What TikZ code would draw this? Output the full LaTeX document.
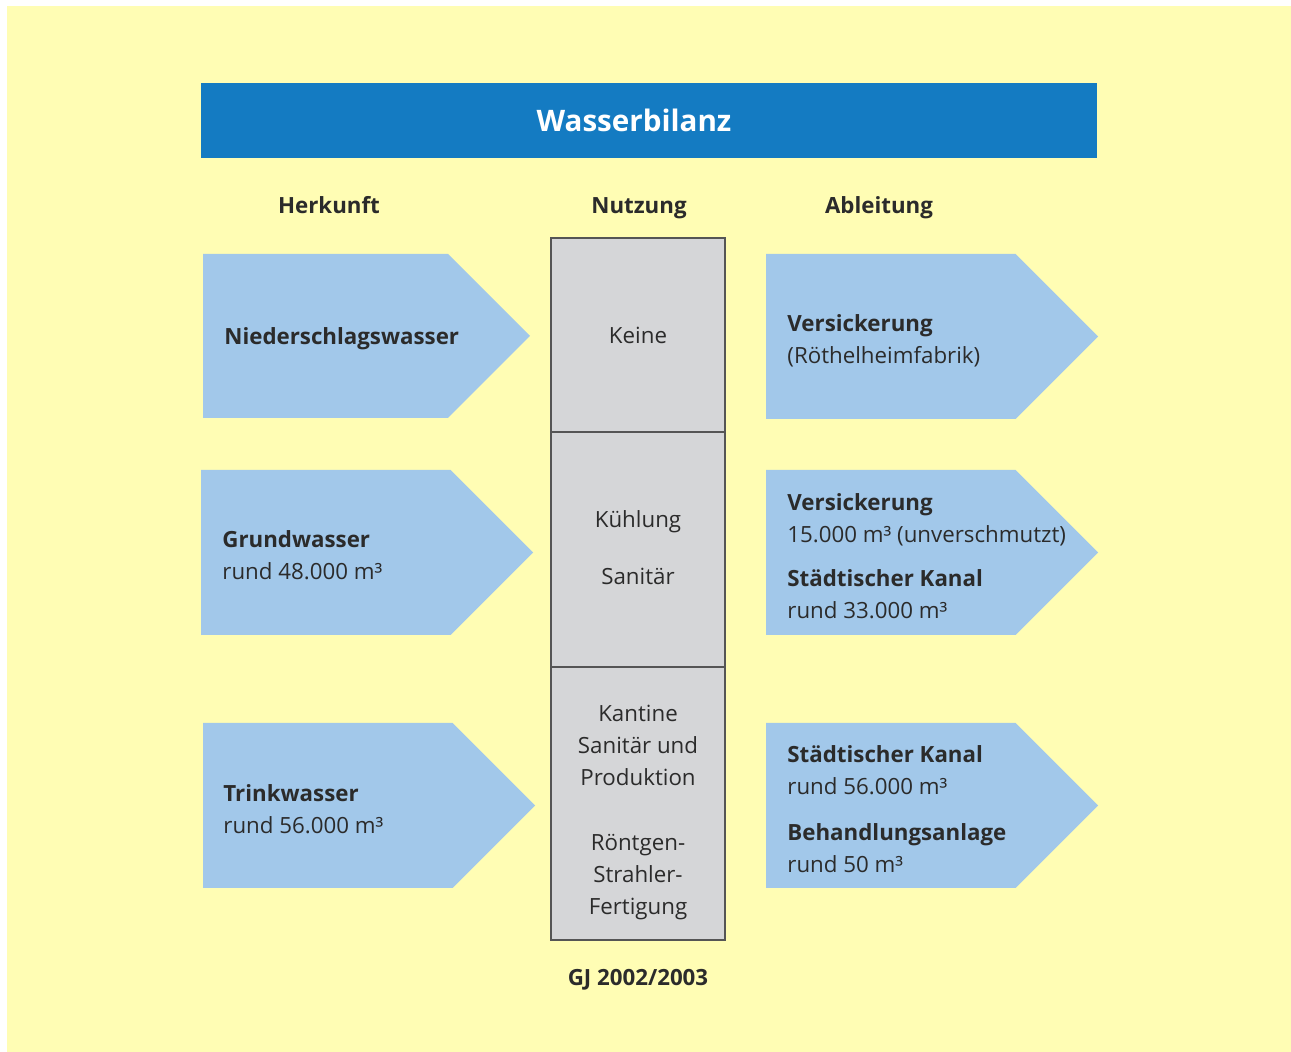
\documentclass[tikz,border=0pt]{standalone}
\usepackage{fontspec}
\setmainfont{Open Sans}
\definecolor{bgyellow}{HTML}{FFFDB4}
\definecolor{titleblue}{HTML}{147BC2}
\definecolor{arrowblue}{HTML}{A2C8EA}
\definecolor{usegrey}{HTML}{D5D6D8}
\definecolor{textgrey}{HTML}{2B2B2B}
\definecolor{linegrey}{HTML}{555555}
\begin{document}
\begin{tikzpicture}[x=0.5pt, y=-0.5pt,
    txt/.style={font=\fontsize{11.15}{16}\selectfont, text=textgrey, inner sep=0pt},
    head/.style={txt, font=\fontsize{11.15}{16}\selectfont\bfseries, anchor=base},
    usebox/.style={txt, draw=linegrey, fill=usegrey, line width=0.6pt,
        minimum width=87pt, align=center}]
    \useasboundingbox (0,0) rectangle (1291,1052);

    % Background
    \fill[bgyellow] (7,6) rectangle (1291,1052);

    % Title bar
    \fill[titleblue] (201,83) rectangle (1097,158);
    \node[font=\fontsize{14.8}{18}\selectfont\bfseries, text=white] (title) at (634,120) {Wasserbilanz};

    % Column heads
    \node[head] (herkunft) at (329,214) {Herkunft};
    \node[head] (nutzung) at (639,214) {Nutzung};
    \node[head] (ableitung) at (879,214) {Ableitung};

    % Arrows (left x / tip x / top / bottom)
    \foreach \xa/\xt/\ya/\yb in {203/530/254/418, 201/533/470/635, 203/535/723/888,
                                 766/1098/254/419, 766/1098/470/635, 766/1098/723/888}
        \fill[arrowblue] (\xa,\ya) -- ({\xt-(\yb-\ya)/2},\ya) -- (\xt,{(\ya+\yb)/2})
            -- ({\xt-(\yb-\ya)/2},\yb) -- (\xa,\yb) -- cycle;

    % Herkunft
    \node[txt, anchor=west, font=\fontsize{11.15}{16}\selectfont\bfseries] (regen) at (224,339) {Niederschlagswasser};
    \node[txt, anchor=west, align=left] (grund) at (222,555)
        {\textbf{Grundwasser}\\rund 48.000 m³};
    \node[txt, anchor=west, align=left] (trink) at (223,809)
        {\textbf{Trinkwasser}\\rund 56.000 m³};

    % Nutzung
    \node[usebox, minimum height=97pt] (keine) at (638,335) {Keine};
    \node[usebox, minimum height=117.5pt] (kuehl) at (638,549.5) {};
    \node[txt, align=center] (kuehltxt) at (638,548) {Kühlung\\[12.5pt]Sanitär};
    \node[usebox, minimum height=136.5pt] (prod) at (638,803.5) {};
    \node[txt, align=center] (prodtxt) at (638,812)
        {Kantine\\Sanitär und\\Produktion\\[16.5pt]Röntgen-\\Strahler-\\Fertigung};

    % Ableitung
    \node[txt, anchor=west, align=left] (versick) at (787,341)
        {\textbf{Versickerung}\\(Röthelheimfabrik)};
    \node[txt, anchor=west, align=left] (kanal) at (787,556)
        {\textbf{Versickerung}\\15.000 m³ (unverschmutzt)\\[6pt]
         \textbf{Städtischer Kanal}\\rund 33.000 m³};
    \node[txt, anchor=west, align=left] (anlage) at (787,809)
        {\textbf{Städtischer Kanal}\\rund 56.000 m³\\[7pt]
         \textbf{Behandlungsanlage}\\rund 50 m³};

    % Year
    \node[head] (jahr) at (638,986) {GJ 2002/2003};
\end{tikzpicture}
\end{document}
